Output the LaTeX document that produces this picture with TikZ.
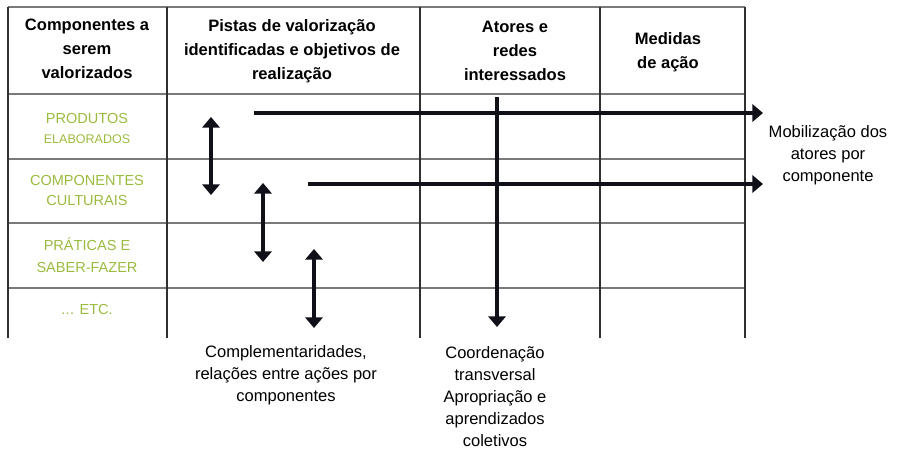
\documentclass[tikz,border=0pt]{standalone}
\usepackage{fontspec}
\setmainfont{Liberation Sans}
\usetikzlibrary{arrows.meta}
\definecolor{lbl}{HTML}{9BBB3F}
\definecolor{hgrid}{HTML}{7A7A7A}
\definecolor{vgrid}{HTML}{303030}
\definecolor{arr}{HTML}{101018}
\begin{document}
\begin{tikzpicture}[x=0.75pt,y=-0.75pt,
  hdr/.style={align=center,font=\fontsize{12.4}{18}\selectfont\bfseries,inner sep=0},
  comp/.style={align=center,text=lbl,font=\fontsize{10.9}{15}\selectfont,inner sep=0},
  note/.style={align=center,font=\fontsize{12.4}{16.5}\selectfont,inner sep=0},
  hline/.style={draw=hgrid,line width=0.9pt},
  vline/.style={draw=vgrid,line width=0.8pt},
  one/.style={draw=arr,line width=2.3pt,-{Triangle[width=13pt,length=8pt]}},
  two/.style={draw=arr,line width=2.3pt,{Triangle[width=13pt,length=8pt]}-{Triangle[width=13pt,length=8pt]}}]
\useasboundingbox (0,0) rectangle (897,449);
% grid
\foreach \y in {7,94,159,223,288} \draw[hline] (8,\y) -- (745,\y);
\foreach \x in {8,167,420,600,745} \draw[vline] (\x,7) -- (\x,338);
% headers
\node[hdr] (h1) at (87,49) {Componentes a\\serem\\valorizados};
\node[hdr] (h2) at (292,51.5) {Pistas de valorização\\identificadas e objetivos de\\realização};
\node[hdr] (h3) at (515,51) {Atores e\\redes\\interessados};
\node[hdr] (h4) at (668,52) {Medidas\\de ação};
% row labels
\node[comp] (r1) at (87,128) {PRODUTOS\\{\fontsize{9.4}{13}\selectfont ELABORADOS}};
\node[comp] (r2) at (87,190) {COMPONENTES\\CULTURAIS};
\node[comp,font=\fontsize{10.9}{16.5}\selectfont] (r3) at (87,255) {PRÁTICAS E\\SABER-FAZER};
\node[comp] (r4) at (87,309) {.\kern0.3pt.\kern0.3pt. ETC.};
% notes
\node[note] (n1) at (286,375) {Complementaridades,\\relações entre ações por\\componentes};
\node[note] (n2) at (495,397) {Coordenação\\transversal\\Apropriação e\\aprendizados\\coletivos};
\node[note] (n3) at (828,155) {Mobilização dos\\atores por\\componente};
% arrow end points
\coordinate (a1s) at (254,113); \coordinate (a1e) at (763,113);
\coordinate (a2s) at (308,184); \coordinate (a2e) at (763,184);
\coordinate (vt) at (497,97);   \coordinate (vb) at (497,327);
\coordinate (d1t) at (211,117); \coordinate (d1b) at (211,195);
\coordinate (d2t) at (263,183); \coordinate (d2b) at (263,262);
\coordinate (d3t) at (314,249); \coordinate (d3b) at (314,328);
% arrows
\draw[one] (a1s) -- (a1e);
\draw[one] (a2s) -- (a2e);
\draw[one] (vt) -- (vb);
\draw[two] (d1t) -- (d1b);
\draw[two] (d2t) -- (d2b);
\draw[two] (d3t) -- (d3b);
\end{tikzpicture}
\end{document}
